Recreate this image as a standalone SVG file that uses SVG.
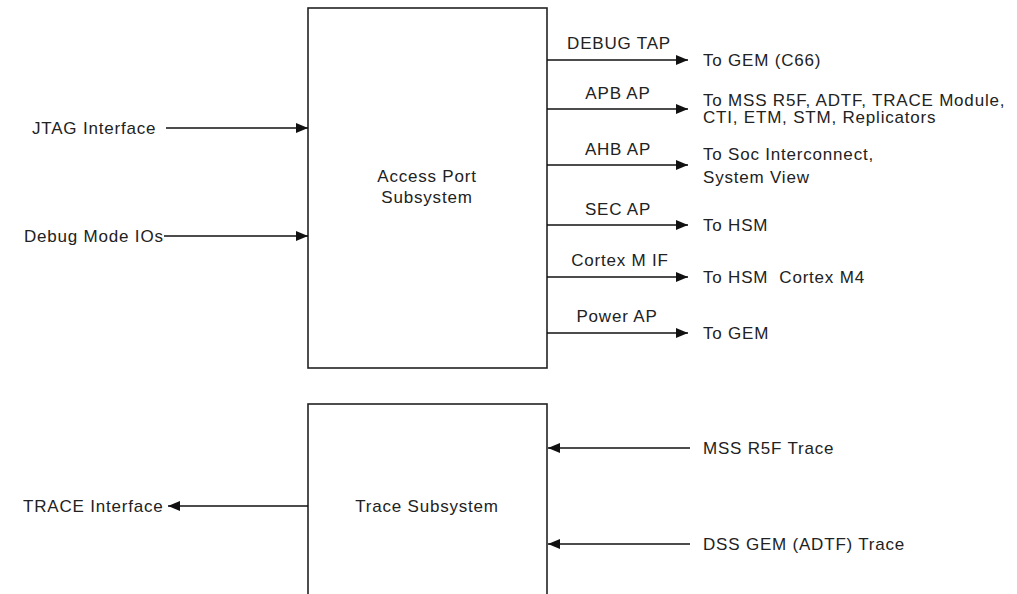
<svg xmlns="http://www.w3.org/2000/svg" width="1017" height="594" viewBox="0 0 1017 594">
<defs>
<marker id="ah" markerUnits="userSpaceOnUse" markerWidth="12" markerHeight="10" refX="12" refY="5" orient="auto">
<path d="M0,0 L12,5 L0,10 z" fill="#111"/>
</marker>
<style>
text{font-family:"Liberation Sans",Arial,sans-serif;font-size:17px;letter-spacing:0.8px;fill:#222}
.c{text-anchor:middle}
.pre{white-space:pre}
.box{fill:#fff;stroke:#222;stroke-width:1.6}
.con line{stroke:#111;stroke-width:1.6;marker-end:url(#ah)}
</style>
</defs>
<rect width="1017" height="594" fill="#fff"/>
<g id="access-port">
<rect class="box" x="308" y="8" width="239" height="360"/>
<text class="c" x="427" y="182">Access Port</text>
<text class="c" x="427" y="203">Subsystem</text>
</g>
<g id="trace-subsystem">
<rect class="box" x="308" y="404" width="239" height="200"/>
<text class="c" x="427" y="512">Trace Subsystem</text>
</g>
<g id="connectors" class="con">
<line x1="166" y1="128" x2="308" y2="128"/>
<line x1="164" y1="236" x2="308" y2="236"/>
<line x1="547" y1="60" x2="688" y2="60"/>
<line x1="547" y1="109" x2="688" y2="109"/>
<line x1="547" y1="165" x2="688" y2="165"/>
<line x1="547" y1="225" x2="688" y2="225"/>
<line x1="547" y1="277" x2="688" y2="277"/>
<line x1="547" y1="333" x2="688" y2="333"/>
<line x1="308" y1="506" x2="168" y2="506"/>
<line x1="690" y1="448" x2="548" y2="448"/>
<line x1="690" y1="544" x2="548" y2="544"/>
</g>
<g id="labels">
<text x="32" y="134">JTAG Interface</text>
<text x="24" y="242">Debug Mode IOs</text>
<text x="23" y="512">TRACE Interface</text>
<text class="c" x="619" y="49">DEBUG TAP</text>
<text class="c" x="618" y="99">APB AP</text>
<text class="c" x="618" y="155">AHB AP</text>
<text class="c" x="618" y="215">SEC AP</text>
<text class="c" x="620" y="266">Cortex M IF</text>
<text class="c" x="617" y="322">Power AP</text>
<text x="703" y="66">To GEM (C66)</text>
<text x="703" y="106">To MSS R5F, ADTF, TRACE Module,</text>
<text x="703" y="123">CTI, ETM, STM, Replicators</text>
<text x="703" y="160">To Soc Interconnect,</text>
<text x="703" y="183">System View</text>
<text x="703" y="231">To HSM</text>
<text class="pre" x="703" y="283">To HSM  Cortex M4</text>
<text x="703" y="339">To GEM</text>
<text x="703" y="454">MSS R5F Trace</text>
<text x="703" y="550">DSS GEM (ADTF) Trace</text>
</g>
</svg>
